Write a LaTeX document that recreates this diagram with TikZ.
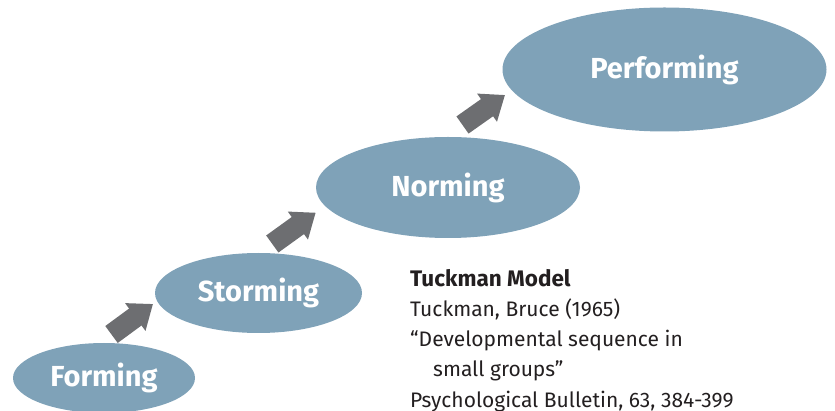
\documentclass[tikz,border=0pt]{standalone}
\usepackage{fontspec}
\setmainfont{Fira Sans}
\usetikzlibrary{shapes.geometric,arrows.meta}
\definecolor{stageblue}{HTML}{7FA2B8}
\definecolor{arrowgray}{HTML}{6D6E71}
\definecolor{inkdark}{HTML}{231F20}
\tikzset{
  stage/.style={ellipse, fill=stageblue, draw=none, inner sep=0pt, text=white,
    font=\fontsize{29}{32}\selectfont\bfseries},
  bigarrow/.style={draw=arrowgray, line width=21pt, line cap=butt,
    -{Triangle[width=33pt,length=22pt]}},
  cite/.style={anchor=base west, inner sep=0pt, text=inkdark,
    font=\fontsize{21}{30}\selectfont},
}
\begin{document}
\begin{tikzpicture}[x=1pt,y=-1pt]
\useasboundingbox (0,0) rectangle (835,411);
\node[stage, minimum width=182pt, minimum height=70pt] (forming) at (104,378) {Forming};
\node[stage, minimum width=207pt, minimum height=80pt] (storming) at (258.5,293) {Storming};
\node[stage, minimum width=264pt, minimum height=101pt] (norming) at (448,187.5) {Norming};
\node[stage, minimum width=324pt, minimum height=124pt] (performing) at (664.5,69.5) {Performing};
\coordinate (a1s) at (111.5,334.5);
\coordinate (a1e) at (153,304);
\coordinate (a2s) at (272.3,244);
\coordinate (a2e) at (315.7,212.7);
\coordinate (a3s) at (462.5,125);
\coordinate (a3e) at (505,95);
\draw[bigarrow] (a1s) -- (a1e);
\draw[bigarrow] (a2s) -- (a2e);
\draw[bigarrow] (a3s) -- (a3e);
\node[cite, font=\fontsize{22.5}{30}\selectfont\bfseries] (c1) at (410,287) {Tuckman Model};
\node[cite] (c2) at (410,317) {Tuckman, Bruce (1965)};
\node[cite] (c3) at (410,347) {“Developmental sequence in};
\node[cite] (c4) at (433,377) {small groups”};
\node[cite] (c5) at (410,407) {Psychological Bulletin, 63, 384-399};
\end{tikzpicture}
\end{document}
